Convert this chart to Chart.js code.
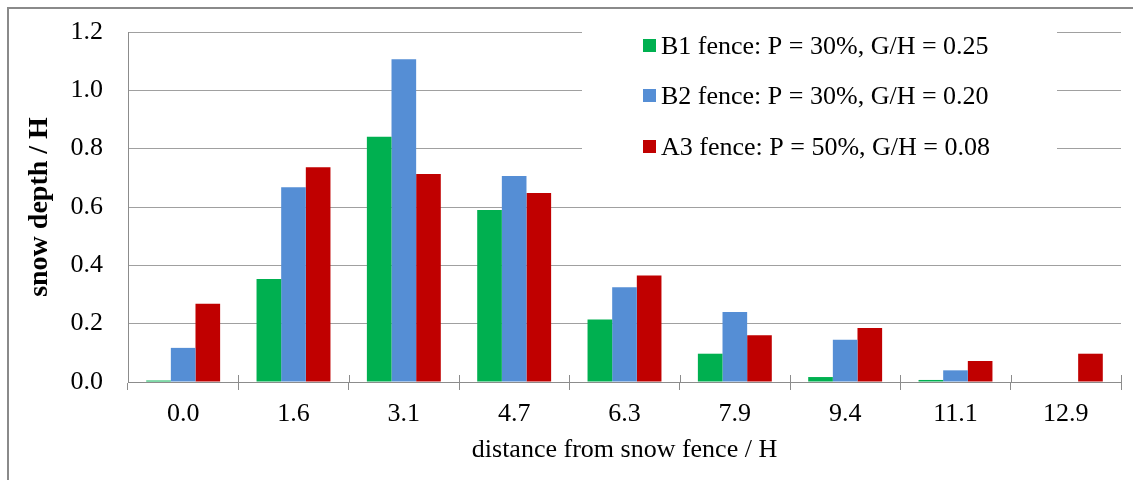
<!DOCTYPE html>
<html>
<head>
<meta charset="utf-8">
<script src="https://cdn.jsdelivr.net/npm/chart.js@4/dist/chart.umd.min.js"></script>
<style>
  html, body { margin: 0; padding: 0; background: #ffffff; }
  #wrap { width: 1133px; height: 480px; position: relative; }
</style>
</head>
<body>
<div id="wrap"><canvas id="c" width="1133" height="480"></canvas></div>
<script>
const categories = ['0.0', '1.6', '3.1', '4.7', '6.3', '7.9', '9.4', '11.1', '12.9'];
const seriesNames = [
  'B1 fence: P = 30%, G/H = 0.25',
  'B2 fence: P = 30%, G/H = 0.20',
  'A3 fence: P = 50%, G/H = 0.08'
];
const b1Values = [0.005, 0.353, 0.841, 0.590, 0.214, 0.097, 0.017, 0.007, 0];
const b2Values = [0.117, 0.668, 1.107, 0.706, 0.325, 0.240, 0.145, 0.040, 0];
const a3Values = [0.268, 0.736, 0.713, 0.648, 0.365, 0.160, 0.185, 0.072, 0.097];
const yTicks = [0, 0.2, 0.4, 0.6, 0.8, 1.0, 1.2];
const colors = ['#00B050', '#558ED5', '#C00000'];

const serif = "'Liberation Serif', 'Times New Roman', serif";

const frame = {
  id: 'frame',
  afterDraw(chart) {
    const ctx = chart.ctx;
    ctx.save();
    ctx.strokeStyle = '#8a8a8a';
    ctx.lineWidth = 2;
    ctx.beginPath();
    ctx.moveTo(8, 480);
    ctx.lineTo(8, 8);
    ctx.lineTo(1133, 8);
    ctx.stroke();
    ctx.restore();
  }
};

const crossTicks = {
  id: 'crossTicks',
  afterDatasetsDraw(chart) {
    const x = chart.scales.x;
    const ctx = chart.ctx;
    const n = categories.length;
    ctx.save();
    ctx.strokeStyle = '#8c8c8c';
    ctx.lineWidth = 1;
    ctx.beginPath();
    for (let i = 0; i <= n; i++) {
      let px;
      if (i === 0) px = x.left;
      else if (i === n) px = x.right;
      else px = (x.getPixelForValue(i - 1) + x.getPixelForValue(i)) / 2;
      px = Math.round(px) + 0.5;
      ctx.moveTo(px, x.top - 7);
      ctx.lineTo(px, x.top);
    }
    ctx.stroke();
    ctx.restore();
  }
};

const boxLegend = {
  id: 'boxLegend',
  afterDraw(chart) {
    const ctx = chart.ctx;
    ctx.save();
    ctx.fillStyle = '#ffffff';
    ctx.fillRect(582, 18, 475, 150);
    ctx.font = '26px ' + serif;
    ctx.textBaseline = 'middle';
    ctx.textAlign = 'left';
    const rows = [46, 96, 147];
    chart.data.datasets.forEach((ds, i) => {
      ctx.fillStyle = ds.backgroundColor;
      ctx.fillRect(643, rows[i] - 7, 13, 13);
      ctx.fillStyle = '#000000';
      ctx.fillText(ds.label, 661, rows[i] + 1);
    });
    ctx.restore();
  }
};

new Chart(document.getElementById('c'), {
  type: 'bar',
  data: {
    labels: categories,
    datasets: [
      { label: seriesNames[0], data: b1Values, backgroundColor: colors[0] },
      { label: seriesNames[1], data: b2Values, backgroundColor: colors[1] },
      { label: seriesNames[2], data: a3Values, backgroundColor: colors[2] }
    ]
  },
  options: {
    responsive: false,
    animation: false,
    devicePixelRatio: 1,
    layout: { padding: { left: 20, right: 12, top: 32, bottom: 14 } },
    datasets: { bar: { categoryPercentage: 0.67, barPercentage: 1.0 } },
    plugins: {
      legend: { display: false },
      tooltip: { enabled: false }
    },
    scales: {
      x: {
        grid: {
          display: true,
          drawOnChartArea: false,
          drawTicks: true,
          tickLength: 8,
          color: '#8c8c8c',
          offset: true
        },
        border: { display: true, color: '#8c8c8c', width: 1 },
        ticks: {
          color: '#000000',
          padding: 9,
          maxRotation: 0,
          autoSkip: false,
          font: { family: serif, size: 26 }
        },
        title: {
          display: true,
          text: 'distance from snow fence / H',
          color: '#000000',
          font: { family: serif, size: 26 },
          padding: { top: 0, bottom: 0 }
        },
        afterFit(scale) {
          scale.height = 84;
          scale.paddingLeft = 0;
          scale.paddingRight = 0;
        }
      },
      y: {
        min: 0,
        max: 1.2,
        afterBuildTicks(scale) {
          scale.ticks = yTicks.map(v => ({ value: v }));
        },
        grid: {
          color: '#a0a0a0',
          drawTicks: false,
          lineWidth: 1
        },
        border: { display: true, color: '#8c8c8c', width: 1 },
        ticks: {
          color: '#000000',
          padding: 25,
          font: { family: serif, size: 26 },
          callback: (v) => Number(v).toFixed(1)
        },
        title: {
          display: true,
          text: 'snow depth / H',
          color: '#000000',
          font: { family: serif, size: 28, weight: 'bold' },
          padding: { top: 3, bottom: 0 }
        },
        afterFit(scale) {
          scale.width = 108;
          scale.paddingTop = 0;
          scale.paddingBottom = 0;
        }
      }
    }
  },
  plugins: [crossTicks, boxLegend, frame]
});
</script>
</body>
</html>
